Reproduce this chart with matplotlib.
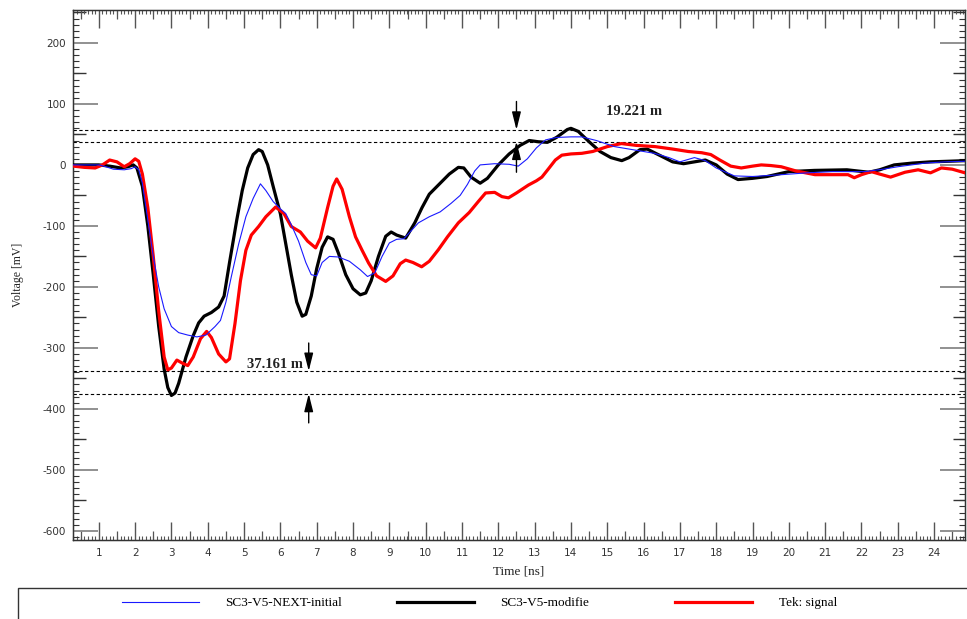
import numpy as np
import matplotlib
matplotlib.use('Agg')
import matplotlib.pyplot as plt
from matplotlib.ticker import MultipleLocator
from matplotlib.patches import Rectangle

plt.rcParams['axes.unicode_minus'] = False

# time [ns], voltage [mV]
t_blue = [0.3, 1.0, 1.2, 1.4, 1.7, 1.9, 2.0, 2.1, 2.2, 2.35, 2.5, 2.65, 2.8, 3.0, 3.2,
          3.45, 3.7, 3.95, 4.2, 4.35, 4.5, 4.65, 4.85, 5.05, 5.25, 5.45, 5.6, 5.8, 6.0,
          6.15, 6.3, 6.5, 6.7, 6.85, 7.0, 7.15, 7.35, 7.6, 7.9, 8.2, 8.4, 8.6, 8.8, 9.0,
          9.2, 9.4, 9.6, 9.8, 10.1, 10.4, 10.7, 10.95, 11.15, 11.35, 11.5, 11.9, 12.3,
          12.55, 12.8, 13.05, 13.3, 13.6, 14.0, 14.3, 14.7, 15.2, 15.8, 16.3, 16.7, 17.0,
          17.4, 17.7, 18.0, 18.5, 19.0, 19.8, 20.5, 21.2, 22.1, 22.6, 23.0, 23.75, 24.3, 24.85]
v_blue = [0, 0, -3, -7, -8, -6, -3, -8, -30, -90, -150, -200, -236, -265, -275,
          -279, -282, -279, -265, -255, -225, -183, -130, -85, -55, -31, -42, -60, -72,
          -80, -98, -125, -160, -180, -182, -160, -150, -151, -158, -172, -183, -177, -150, -128,
          -122, -121, -108, -95, -85, -77, -63, -50, -32, -10, 0, 2, 1,
          -2, 10, 28, 41, 45, 46, 46, 40, 30, 24, 19, 12, 5,
          12, 7, -5, -18, -19, -16, -13, -11, -11, -7, -3, 3, 5, 6]

t_black = [0.3, 1.0, 1.3, 1.6, 1.8, 1.95, 2.05, 2.2, 2.35, 2.5, 2.65, 2.8, 2.9, 3.0, 3.1,
           3.2, 3.4, 3.6, 3.75, 3.9, 4.1, 4.3, 4.45, 4.6, 4.8, 4.95, 5.1, 5.25, 5.4, 5.5,
           5.65, 5.8, 6.0, 6.15, 6.3, 6.45, 6.6, 6.7, 6.85, 7.0, 7.15, 7.3, 7.45, 7.6, 7.8,
           8.0, 8.2, 8.35, 8.5, 8.7, 8.9, 9.05, 9.2, 9.45, 9.7, 9.9, 10.1, 10.4, 10.65,
           10.9, 11.05, 11.25, 11.5, 11.7, 12.0, 12.3, 12.6, 12.85, 13.1, 13.35, 13.6, 13.9,
           14.0, 14.2, 14.5, 14.8, 15.1, 15.4, 15.6, 15.9, 16.1, 16.4, 16.8, 17.1, 17.4,
           17.7, 18.0, 18.3, 18.6, 19.0, 19.4, 20.0, 20.7, 21.6, 22.2, 22.5, 22.9, 23.4,
           23.9, 24.4, 24.85]
v_black = [0, 0, -2, -5, -3, 0, -5, -35, -100, -180, -265, -335, -365, -378, -374,
           -358, -315, -280, -259, -248, -242, -233, -215, -160, -90, -42, -5, 17, 25, 22,
           0, -35, -80, -130, -180, -225, -248, -245, -215, -170, -135, -118, -122, -145, -180,
           -203, -213, -210, -190, -150, -117, -110, -115, -120, -95, -70, -48, -30, -15,
           -4, -5, -20, -30, -22, 0, 18, 32, 40, 38, 37, 45, 58,
           60, 55, 38, 22, 12, 7, 12, 25, 26, 17, 5, 2, 5,
           8, 0, -15, -24, -22, -19, -11, -9, -8, -12, -8, 0, 3,
           5, 6, 7]

t_red = [0.3, 0.6, 0.9, 1.1, 1.3, 1.5, 1.7, 1.85, 2.0, 2.1, 2.2, 2.35, 2.5, 2.65, 2.8,
         2.9, 3.0, 3.15, 3.3, 3.45, 3.6, 3.8, 3.97, 4.1, 4.3, 4.5, 4.6, 4.75, 4.9, 5.05,
         5.2, 5.4, 5.6, 5.87, 6.1, 6.3, 6.55, 6.75, 6.97, 7.1, 7.3, 7.45, 7.55, 7.7, 7.9,
         8.07, 8.25, 8.43, 8.65, 8.9, 9.1, 9.3, 9.45, 9.65, 9.89, 10.1, 10.35, 10.6, 10.9,
         11.2, 11.45, 11.65, 11.9, 12.1, 12.28, 12.5, 12.83, 13.05, 13.2, 13.4, 13.57, 13.75,
         14.0, 14.3, 14.6, 15.0, 15.39, 15.8, 16.32, 16.8, 17.23, 17.6, 17.85, 18.1, 18.4,
         18.69, 19.0, 19.24, 19.5, 19.79, 20.2, 20.72, 21.2, 21.63, 21.8, 22.0, 22.27, 22.5,
         22.8, 23.2, 23.56, 23.9, 24.2, 24.5, 24.85]
v_red = [-2, -4, -5, 0, 8, 5, -3, 2, 10, 6, -15, -70, -150, -240, -315,
         -336, -333, -320, -325, -329, -315, -285, -273, -283, -310, -323, -318, -260, -190, -140,
         -115, -101, -85, -69, -80, -101, -110, -125, -136, -120, -70, -35, -23, -40, -85,
         -118, -140, -161, -182, -191, -182, -162, -156, -160, -167, -158, -139, -118, -95,
         -78, -60, -46, -45, -52, -54, -46, -33, -26, -20, -5, 8, 16,
         18, 19, 22, 30, 35, 32, 30, 26, 22, 20, 17, 8, -2,
         -5, -2, 0, -1, -3, -10, -16, -16, -16, -21, -16, -11, -15,
         -20, -12, -8, -13, -5, -7, -13]

labels = ['SC3-V5-NEXT-initial', 'SC3-V5-modifie', 'Tek: signal']

# cursor levels (mV) and their readouts
cursor_top = [57.5, 38.3]
cursor_bot = [-338.0, -375.2]
top_text = '19.221 m'
bot_text = '37.161 m'

fig = plt.figure(figsize=(9.67, 6.19), dpi=100)
ax = fig.add_axes([73 / 967, 79 / 619, 892 / 967, 530 / 619])

l_blue, = ax.plot(t_blue, v_blue, color='#1a1aff', lw=0.8, zorder=4)
l_black, = ax.plot(t_black, v_black, color='black', lw=2.3, zorder=3)
l_red, = ax.plot(t_red, v_red, color='#ff0000', lw=2.3, zorder=3.5)

ax.set_xlim(0.29, 24.85)
ax.set_ylim(-615, 254)

for y in cursor_top + cursor_bot:
    ax.axhline(y, color='black', lw=0.8, ls=(0, (3, 2.2)), zorder=2)

arw = dict(arrowstyle='-|>,head_length=0.6,head_width=0.15', color='black', lw=1,
           shrinkA=0, shrinkB=0, mutation_scale=18)
ax.annotate('', xy=(12.5, cursor_top[0]), xytext=(12.5, 104), arrowprops=arw, zorder=6)
ax.annotate('', xy=(12.5, cursor_top[1]), xytext=(12.5, -12), arrowprops=arw, zorder=6)
ax.annotate('', xy=(6.78, cursor_bot[0]), xytext=(6.78, -292), arrowprops=arw, zorder=6)
ax.annotate('', xy=(6.78, cursor_bot[1]), xytext=(6.78, -423), arrowprops=arw, zorder=6)
ax.text(15.75, 88, top_text, ha='center', va='center', fontsize=10.5,
        fontweight='bold', family='Liberation Serif', color='#222')
ax.text(6.62, -327, bot_text, ha='right', va='center', fontsize=10.5,
        fontweight='bold', family='Liberation Serif', color='#222')

# ticks
for s in ax.spines.values():
    s.set_color('#333')
    s.set_linewidth(1)

ax.set_xticks(range(1, 25))
ax.xaxis.set_minor_locator(MultipleLocator(0.1))
ax.set_yticks(range(-600, 201, 100))
ax.yaxis.set_minor_locator(MultipleLocator(10))
ax.tick_params(which='both', direction='in', top=True, right=True, colors='#555')
ax.tick_params(axis='x', which='major', length=13, width=1, pad=6,
               labelsize=7.5, labelcolor='#333')
ax.tick_params(axis='x', which='minor', length=3, width=0.8)
ax.tick_params(axis='y', which='major', length=18, width=1.3, color='#888', pad=5,
               labelsize=7.5, labelcolor='#333')
ax.tick_params(axis='y', which='minor', length=4, width=0.8, color='#333')

for side in ['bottom', 'top']:
    sx = ax.secondary_xaxis(side)
    sx.set_xticks(np.arange(0.5, 25, 1))
    sx.tick_params(direction='in', length=6.5, width=0.9, colors='#555',
                   labelbottom=False, labeltop=False)
for side in ['left', 'right']:
    sy = ax.secondary_yaxis(side)
    sy.set_yticks(range(-550, 251, 100))
    sy.tick_params(direction='in', length=9, width=1, colors='#333',
                   labelleft=False, labelright=False)

ax.set_xlabel('Time [ns]', family='Liberation Serif', fontsize=9.5, color='#222')
ax.xaxis.set_label_coords(0.5, -0.048)
ax.set_ylabel('Voltage [mV]', family='Liberation Serif', fontsize=8.5, color='#222')
ax.yaxis.set_label_coords(-0.055, 0.5)

# legend strip at the bottom
fig.add_artist(Rectangle((18 / 967, -0.2), 1.2, 0.2 + 31 / 619, transform=fig.transFigure,
                         fill=False, ec='#333', lw=1))
for h, lab, x0 in zip([l_blue, l_black, l_red], labels, [122, 397, 675]):
    fig.legend(handles=[h], labels=[lab], loc='center left', bbox_to_anchor=(x0 / 967, 16 / 619),
               frameon=False, borderpad=0, borderaxespad=0, handlelength=5.8,
               handletextpad=2.05, prop={'family': 'Liberation Serif', 'size': 9.5})

fig.savefig('out.png', dpi=100)
